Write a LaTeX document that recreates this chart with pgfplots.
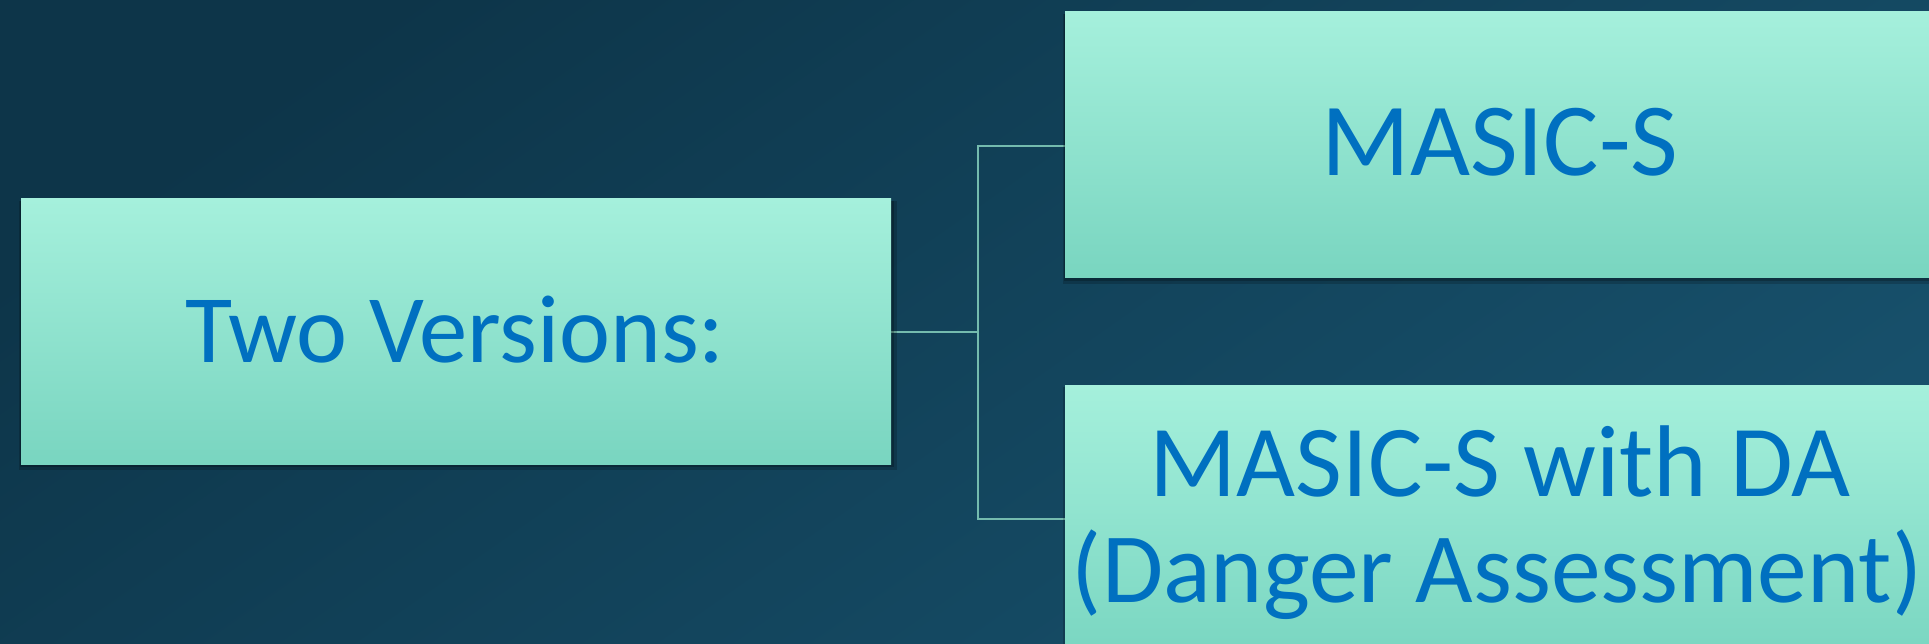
\documentclass[border=0pt]{standalone}
\usepackage{pgfplots}
\pgfplotsset{compat=1.18}
\usepackage{fontspec}
\setmainfont{Carlito}
\definecolor{bgA}{HTML}{0D3549}
\definecolor{bgB}{HTML}{17506B}
\definecolor{boxTop}{HTML}{A5F0DC}
\definecolor{boxMid}{HTML}{8FE8D3}
\definecolor{boxBot}{HTML}{79D5C0}
\definecolor{conn}{HTML}{74BBAE}
\definecolor{txt}{HTML}{0070C0}
\begin{document}
\begin{tikzpicture}
\begin{axis}[width=19.29cm,height=6.44cm,scale only axis,
  xmin=0,xmax=1929,ymin=0,ymax=644,y dir=reverse,axis lines=none,
  clip=true]
% background
\addplot[draw=none,top color=bgA,bottom color=bgB,shading angle=35] coordinates {(0,0) (1929,0) (1929,644) (0,644)};
% connector
\addplot[draw=conn,line width=0.25mm] coordinates {(891,332) (978,332)};
\addplot[draw=conn,line width=0.25mm] coordinates {(1065,146) (978,146) (978,519) (1065,519)};
% shadows
\addplot[draw=none,fill=black,opacity=0.18] coordinates {(19,201) (897,201) (897,470) (19,470)};
\addplot[draw=none,fill=black,opacity=0.22] coordinates {(20,201) (894,201) (894,467) (20,467)};
\addplot[draw=none,fill=black,opacity=0.18] coordinates {(1063,14) (1929,14) (1929,284) (1063,284)};
\addplot[draw=none,fill=black,opacity=0.22] coordinates {(1064,14) (1929,14) (1929,281) (1064,281)};
\addplot[draw=none,fill=black,opacity=0.18] coordinates {(1063,387) (1929,387) (1929,644) (1063,644)};
% boxes
\addplot[draw=none,top color=boxTop,middle color=boxMid,bottom color=boxBot] coordinates {(21,199) (891,199) (891,464) (21,464)};
\addplot[draw=none,top color=boxTop,middle color=boxMid,bottom color=boxBot] coordinates {(1065,12) (1929,12) (1929,278) (1065,278)};
\addplot[draw=none,top color=boxTop,middle color=boxMid,bottom color=boxBot!90!boxMid] coordinates {(1065,385) (1929,385) (1929,644) (1065,644)};
% texts
\node[anchor=base,text=txt,font=\fontsize{27.5}{33}\selectfont,inner sep=0pt] at (axis cs:455,362) {Two Versions:};
\node[anchor=base,text=txt,font=\fontsize{29.5}{35}\selectfont,inner sep=0pt] at (axis cs:1500,176) {MASIC-S};
\node[anchor=base,text=txt,font=\fontsize{29}{35}\selectfont,inner sep=0pt] at (axis cs:1500,496) {MASIC-S with DA};
\node[anchor=base,text=txt,font=\fontsize{28.3}{34}\selectfont,inner sep=0pt] at (axis cs:1497,602) {(Danger Assessment)};
\coordinate (bl) at (axis cs:0,644);
\coordinate (tr) at (axis cs:1929,0);
\end{axis}
\pgfresetboundingbox
\path[use as bounding box] (bl) rectangle (tr);
\end{tikzpicture}
\end{document}
